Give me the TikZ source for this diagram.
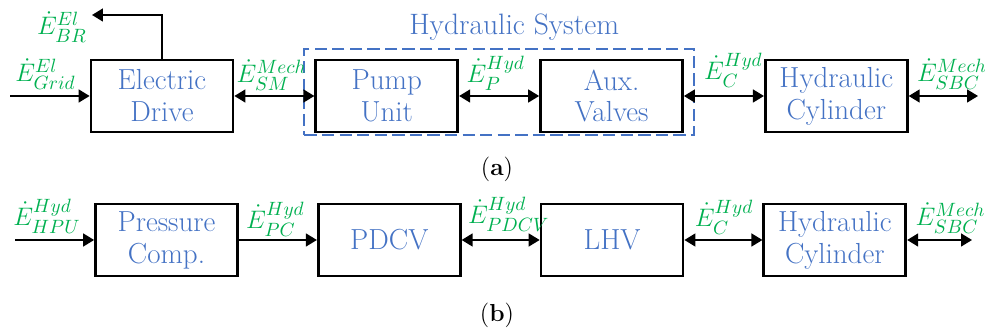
\documentclass[tikz,border=0pt]{standalone}
\usepackage{amsmath}
\usepackage{tikz}
\usetikzlibrary{arrows.meta,positioning,fit,calc}
\DeclareMathSizes{13.5}{13.5}{10.5}{8.5}
\definecolor{hsBlue}{HTML}{4472C4}
\definecolor{hsGreen}{HTML}{00B050}
\tikzset{
    % Block styles
    block/.style={rectangle, draw=black, line width=1.6pt, minimum width=2.84cm, minimum height=1.44cm, align=center, text=hsBlue, font=\fontsize{16.5}{18.2}\selectfont},
    sysbox/.style={rectangle, draw=hsBlue, dash pattern=on 7pt off 3pt, line width=1.1pt},
    systitle/.style={text=hsBlue, inner sep=0pt, font=\fontsize{16.8}{20}\selectfont},
    caplbl/.style={inner sep=0pt, font=\fontsize{14}{16}\selectfont},
    % Flow styles
    flow/.style={-{Triangle[length=0.22cm,width=0.26cm]}, line width=0.9pt},
    biflow/.style={{Triangle[length=0.22cm,width=0.26cm]}-{Triangle[length=0.22cm,width=0.26cm]}, line width=0.9pt},
    lbl/.style={text=hsGreen, inner sep=0pt, font=\fontsize{13.5}{16}\selectfont}
}

\begin{document}
\begin{tikzpicture}[x=0.02cm, y=-0.02cm]

    \useasboundingbox (0,0) rectangle (985,330);

    % (a) Nodes
    \node[block] (ed) at (162,96) {Electric\\Drive};
    \node[block, right=1.6cm of ed] (pump) {Pump\\Unit};
    \node[block, right=1.6cm of pump] (aux) {Aux.\\Valves};
    \node[block, right=1.6cm of aux] (cyla) {Hydraulic\\Cylinder};

    \node[sysbox, fit=(pump)(aux), inner xsep=0.2cm, inner ysep=0.12cm, yshift=0.08cm] (sys) {};
    \node[systitle, anchor=base] (systxt) at ($(sys.north)+(15,-13)$) {Hydraulic System};

    \coordinate (gridin) at (10,96);
    \coordinate (brtip) at (92,15);
    \coordinate (sbcouta) at (978,96);

    % (a) Arrows
    \draw[flow] (gridin) -- (ed.west);
    \draw[flow] (ed.north) |- (brtip);
    \draw[biflow] (ed.east) -- (pump.west);
    \draw[biflow] (pump.east) -- (aux.west);
    \draw[biflow] (aux.east) -- (cyla.west);
    \draw[biflow] (cyla.east) -- (sbcouta);

    % (a) Labels
    \node[lbl, above right=0.12cm and 0.1cm of gridin] (egrid) {$\dot{E}^{El}_{Grid}$};
    \node[lbl, anchor=north east, xshift=-0.1cm, yshift=0.08cm] (ebr) at (brtip) {$\dot{E}^{El}_{BR}$};
    \node[lbl, above right=0.1cm and 0.04cm of ed.east] (esm) {$\dot{E}^{Mech}_{SM}$};
    \node[lbl, above right=0.1cm and 0.14cm of pump.east] (ep) {$\dot{E}^{Hyd}_{P}$};
    \node[lbl, above right=0.16cm and 0.18cm of sys.east |- aux.east] (eca) {$\dot{E}^{Hyd}_{C}$};
    \node[lbl, above right=0.12cm and 0.16cm of cyla.east] (esbca) {$\dot{E}^{Mech}_{SBC}$};

    \node[caplbl] (capa) at (497,169) {(\textbf{a})};

    % (b) Nodes
    \node[block] (pc) at (166.5,240) {Pressure\\Comp.};
    \node[block, right=1.56cm of pc] (pdcv) {PDCV};
    \node[block, right=1.56cm of pdcv] (lhv) {LHV};
    \node[block, right=1.56cm of lhv] (cylb) {Hydraulic\\Cylinder};

    \coordinate (hpuin) at (15,240);
    \coordinate (sbcoutb) at (972,240);

    % (b) Arrows
    \draw[flow] (hpuin) -- (pc.west);
    \draw[flow] (pc.east) -- (pdcv.west);
    \draw[biflow] (pdcv.east) -- (lhv.west);
    \draw[biflow] (lhv.east) -- (cylb.west);
    \draw[biflow] (cylb.east) -- (sbcoutb);

    % (b) Labels
    \node[lbl, above right=0.12cm and -0.04cm of hpuin] (ehpu) {$\dot{E}^{Hyd}_{HPU}$};
    \node[lbl, above right=0.06cm and 0.14cm of pc.east] (epc) {$\dot{E}^{Hyd}_{PC}$};
    \node[lbl, above right=0.16cm and 0.12cm of pdcv.east] (epdcv) {$\dot{E}^{Hyd}_{PDCV}$};
    \node[lbl, above right=0.1cm and 0.2cm of lhv.east] (ecb) {$\dot{E}^{Hyd}_{C}$};
    \node[lbl, above right=0.12cm and 0.16cm of cylb.east] (esbcb) {$\dot{E}^{Mech}_{SBC}$};

    \node[caplbl] (capb) at (497,315) {(\textbf{b})};

\end{tikzpicture}
\end{document}
